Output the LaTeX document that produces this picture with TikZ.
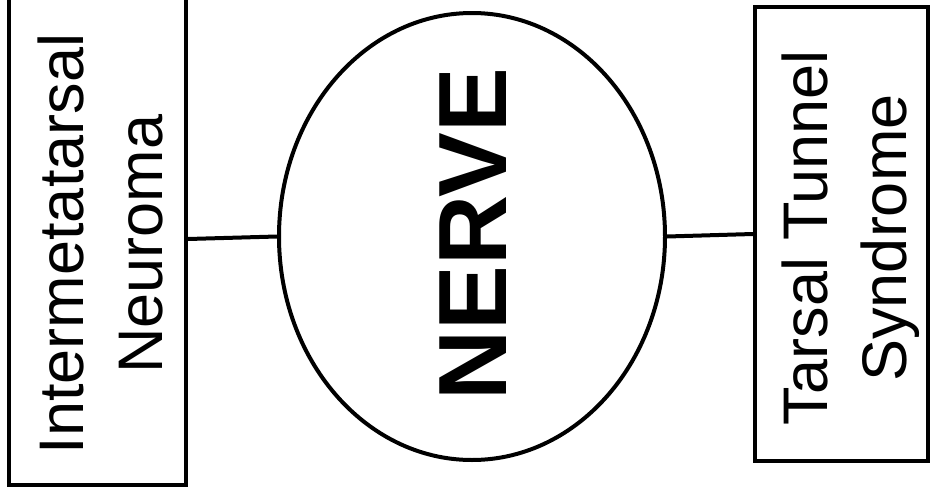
\documentclass[tikz,border=0pt]{standalone}
\usepackage{fontspec}
\setmainfont{Liberation Sans}
\usetikzlibrary{shapes.geometric}
\begin{document}
\begin{tikzpicture}[x=1pt, y=-1pt,
    box/.style={rectangle, draw, line width=4pt, inner sep=0pt},
    oval/.style={ellipse, draw, line width=4pt, inner sep=0pt,
                 minimum width=386pt, minimum height=447pt},
    boxtext/.style={rotate=90, align=center, inner sep=0pt,
                    font=\fontsize{63}{79}\selectfont},
    bigtext/.style={rotate=90, inner sep=0pt,
                    font=\fontsize{97}{97}\selectfont\bfseries},
    link/.style={line width=4pt}
]
\useasboundingbox (0,0) rectangle (932,493);
% boxes and the nerve
\node[box, minimum width=177pt, minimum height=492pt] (neuroma) at (97.5,239) {};
\node[box, minimum width=173pt, minimum height=454pt] (tarsal) at (841.5,234) {};
\node[oval] (nerve) at (472,236.5) {};
% texts
\node[boxtext] (neuromatext) at (100,244) {Intermetatarsal\\Neuroma};
\node[boxtext] (tarsaltext) at (851,238) {Tarsal Tunnel\\Syndrome};
\node[bigtext] (nervetext) at (473.5,234) {NERVE};
% links
\draw[link] (neuroma.east) -- (nerve.west);
\draw[link] (nerve.east) -- (tarsal.west);
\end{tikzpicture}
\end{document}
